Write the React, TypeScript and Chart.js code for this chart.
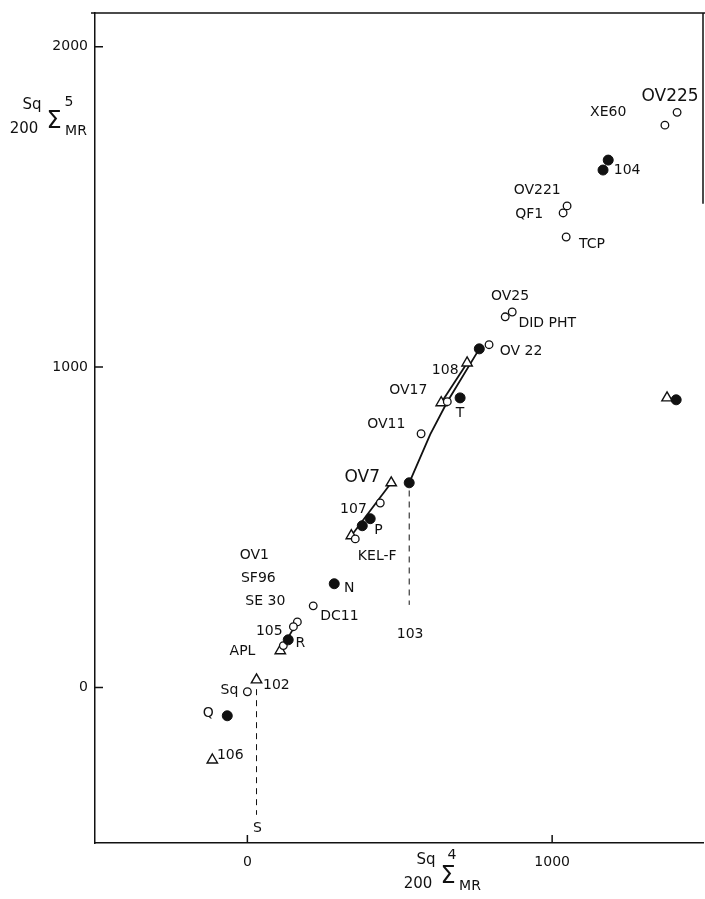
import React, { useEffect, useRef } from "react";
import { Chart, registerables } from "chart.js";

Chart.register(...registerables);

// ---- data (x = Sq200ΣMR^4, y = Sq200ΣMR^5) ----
const openCircleX = [1410, 1370, 1049, 1036, 1046, 869, 846, 793, 656, 570, 436, 354, 216, 164, 151, 118, 0];
const openCircleY = [1795, 1755, 1503, 1481, 1406, 1172, 1157, 1070, 892, 792, 576, 464, 255, 205, 190, 131, -13];

const filledX = [1184, 1167, 761, 698, 531, 403, 377, 285, 134, -66, 1407];
const filledY = [1646, 1615, 1057, 904, 639, 527, 505, 324, 149, -88, 898];

const triangleX = [721, 636, 472, 341, 108, 30, -115, 1377];
const triangleY = [1013, 889, 639, 474, 115, 24, -226, 904];

const mainLineX = [531, 600, 656, 761];
const mainLineY = [639, 790, 892, 1057];
const line108X = [636, 721];
const line108Y = [889, 1013];
const lineKelX = [341, 472];
const lineKelY = [474, 639];
const line105X = [108, 164];
const line105Y = [115, 205];
const dash103X = [531, 531];
const dash103Y = [615, 258];
const dashSX = [30, 30];
const dashSY = [-5, -397];

const xTicks = [0, 1000];
const yTicks = [0, 1000, 2000];

const labelText = ["OV225", "XE60", "104", "OV221", "QF1", "TCP", "OV25", "DID PHT", "OV 22", "108", "OV17", "T", "OV11", "OV7", "107", "P", "KEL-F", "103", "OV1", "SF96", "SE 30", "N", "DC11", "105", "R", "APL", "102", "Sq", "Q", "106", "S"];
const labelX = [1387, 1184, 1246, 951, 925, 1131, 862, 984, 898, 649, 528, 698, 456, 377, 348, 430, 426, 534, 23, 36, 59, 334, 302, 72, 174, -16, 95, -59, -128, -56, 33];
const labelY = [1843, 1796, 1615, 1553, 1478, 1382, 1222, 1138, 1050, 991, 926, 857, 820, 655, 557, 492, 408, 165, 414, 342, 268, 311, 221, 174, 137, 112, 6, -10, -82, -210, -440];
const bigLabels = ["OV225", "OV7"];

const toPts = (xs: number[], ys: number[]) => xs.map((x, i) => ({ x, y: ys[i] }));

const FONT = "'DejaVu Sans', sans-serif";

const decorPlugin = {
  id: "decor",
  afterDatasetsDraw(chart: any) {
    const { ctx, chartArea, scales } = chart;
    const xs = scales.x;
    const ys = scales.y;
    ctx.save();
    ctx.strokeStyle = "#111";
    ctx.lineWidth = 1.5;
    // top frame and partial right frame
    ctx.beginPath();
    ctx.moveTo(chartArea.left - 4, chartArea.top);
    ctx.lineTo(chartArea.right + 2, chartArea.top);
    ctx.moveTo(chartArea.right, chartArea.top);
    ctx.lineTo(chartArea.right, ys.getPixelForValue(1510));
    ctx.stroke();
    // inward ticks
    ctx.beginPath();
    yTicks.forEach((v) => {
      const p = ys.getPixelForValue(v);
      ctx.moveTo(chartArea.left, p);
      ctx.lineTo(chartArea.left + 8, p);
    });
    xTicks.forEach((v) => {
      const p = xs.getPixelForValue(v);
      ctx.moveTo(p, chartArea.bottom);
      ctx.lineTo(p, chartArea.bottom - 8);
    });
    ctx.stroke();

    // point labels
    ctx.fillStyle = "#111";
    ctx.textAlign = "center";
    ctx.textBaseline = "middle";
    labelText.forEach((t, i) => {
      const big = bigLabels.includes(t);
      ctx.font = `${big ? 17 : 14}px ${FONT}`;
      ctx.fillText(t, xs.getPixelForValue(labelX[i]), ys.getPixelForValue(labelY[i]));
    });

    // axis titles
    const drawTitle = (x0: number, y0: number) => {
      ctx.textAlign = "center";
      ctx.font = `15px ${FONT}`;
      ctx.fillText("Sq", x0 + 8, y0 - 17);
      ctx.fillText("200", x0, y0 + 7);
      ctx.font = `24px ${FONT}`;
      ctx.fillText("Σ", x0 + 30, y0);
      ctx.font = `14px ${FONT}`;
      ctx.fillText("MR", x0 + 52, y0 + 9);
    };
    // y title
    drawTitle(24, 122);
    ctx.font = `14px ${FONT}`;
    ctx.fillText("5", 69, 102);
    // x title
    drawTitle(418, 877);
    ctx.font = `14px ${FONT}`;
    ctx.fillText("4", 452, 855);
    ctx.restore();
  },
};

export default function App() {
  const ref = useRef<HTMLCanvasElement | null>(null);
  useEffect(() => {
    if (!ref.current) return;
    const black = "#111";
    const lineDs = (xs: number[], ys: number[], dash: number[] = [], w = 1.8) => ({
      type: "line" as const,
      data: toPts(xs, ys),
      showLine: true,
      borderColor: black,
      borderWidth: w,
      borderDash: dash,
      pointRadius: 0,
      fill: false,
      order: 10,
    });
    const chart = new Chart(ref.current, {
      type: "scatter",
      data: {
        datasets: [
          lineDs(mainLineX, mainLineY),
          lineDs(line108X, line108Y),
          lineDs(lineKelX, lineKelY),
          lineDs(line105X, line105Y),
          lineDs(dash103X, dash103Y, [6, 5], 1),
          lineDs(dashSX, dashSY, [6, 5], 1),
          {
            data: toPts(openCircleX, openCircleY),
            pointStyle: "circle",
            pointRadius: 3.8,
            backgroundColor: "#fff",
            borderColor: black,
            borderWidth: 1.3,
            order: 1,
          },
          {
            data: toPts(triangleX, triangleY),
            pointStyle: "triangle",
            pointRadius: 6,
            backgroundColor: "#fff",
            borderColor: black,
            borderWidth: 1.4,
            order: 1,
          },
          {
            data: toPts(filledX, filledY),
            pointStyle: "circle",
            pointRadius: 5,
            backgroundColor: black,
            borderColor: black,
            borderWidth: 1,
            order: 0,
          },
        ] as any,
      },
      options: {
        animation: false,
        responsive: false,
        maintainAspectRatio: false,
        layout: { autoPadding: false, padding: { left: 0, right: 2, top: 13, bottom: 0 } },
        plugins: { legend: { display: false }, tooltip: { enabled: false } },
        scales: {
          x: {
            type: "linear",
            min: -500,
            max: 1495,
            afterBuildTicks: (s: any) => {
              s.ticks = xTicks.map((v) => ({ value: v }));
            },
            afterFit: (s: any) => {
              s.height = 56;
              s.paddingRight = 0;
              s.paddingLeft = 0;
            },
            grid: { display: false, drawTicks: false },
            border: { display: true, color: black, width: 1.5 },
            ticks: {
              color: black,
              padding: 11,
              font: { family: FONT, size: 14 },
              maxRotation: 0,
              callback: (v: any) => String(v),
            },
          },
          y: {
            type: "linear",
            min: -485,
            max: 2105,
            afterBuildTicks: (s: any) => {
              s.ticks = yTicks.map((v) => ({ value: v }));
            },
            afterFit: (s: any) => {
              s.width = 95;
              s.paddingTop = 0;
              s.paddingBottom = 0;
            },
            grid: { display: false, drawTicks: false },
            border: { display: true, color: black, width: 1.5 },
            ticks: {
              color: black,
              padding: 7,
              font: { family: FONT, size: 14 },
              callback: (v: any) => String(v),
            },
          },
        },
      },
      plugins: [decorPlugin],
    });
    return () => chart.destroy();
  }, []);
  return (
    <div style={{ position: "fixed", left: 0, top: 0, width: 705, height: 899, background: "#fff" }}>
      <canvas ref={ref} width={705} height={899} style={{ width: 705, height: 899, display: "block" }} />
    </div>
  );
}
